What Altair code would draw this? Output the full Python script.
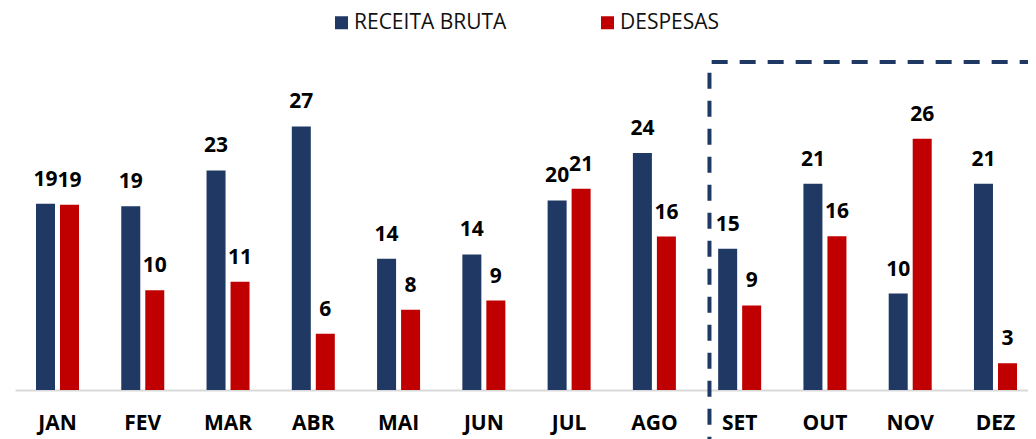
import altair as alt
import pandas as pd

meses = ["JAN", "FEV", "MAR", "ABR", "MAI", "JUN", "JUL", "AGO", "SET", "OUT", "NOV", "DEZ"]
receita = [19.2, 18.96, 22.64, 27.18, 13.53, 13.98, 19.55, 24.45, 14.57, 21.27, 9.95, 21.27]
despesas = [19.1, 10.3, 11.16, 5.8, 8.27, 9.23, 20.75, 15.83, 8.72, 15.87, 25.91, 2.76]
series = ["RECEITA BRUTA", "DESPESAS"]
cores = ["#1F3864", "#C00000"]

# annotation box (starts at SET, top value)
caixa_mes = ["SET"]
caixa_topo = [33.83]

rows = []
for i, m in enumerate(meses):
    rows.append({"mes": m, "serie": series[0], "valor": receita[i]})
    rows.append({"mes": m, "serie": series[1], "valor": despesas[i]})
df = pd.DataFrame(rows)
box = pd.DataFrame({"mes": caixa_mes, "topo": caixa_topo})

NAVY = cores[0]
W, H = 1013, 350

xscale = alt.Scale(domain=meses, paddingInner=0.4957, paddingOuter=0.1878, align=0.6557)
yscale = alt.Scale(domain=[0, 36.1], nice=False, zero=True)

x_enc = alt.X(
    "mes:N",
    scale=xscale,
    sort=meses,
    axis=alt.Axis(
        title=None, labelAngle=0, labelFont="Open Sans", labelFontSize=21,
        labelFontWeight="bold", labelColor="#000000", ticks=False, tickSize=0,
        labelPadding=39, labelBaseline="alphabetic", domainColor="#D9D9D9",
        domainWidth=2, grid=False,
    ),
)
xo_enc = alt.XOffset("serie:N", sort=series, scale=alt.Scale(domain=series, paddingInner=0.2083, paddingOuter=0))
y_enc = alt.Y("valor:Q", scale=yscale, axis=None)

base = alt.Chart(df)

bars = base.mark_bar().encode(
    x=x_enc,
    xOffset=xo_enc,
    y=y_enc,
    color=alt.Color(
        "serie:N",
        sort=series,
        scale=alt.Scale(domain=series, range=cores),
        legend=alt.Legend(
            orient="none", legendX=316, legendY=-28, direction="horizontal",
            title=None, symbolType="square", symbolSize=169, symbolStrokeWidth=0,
            labelFontSize=21, labelFont="Open Sans", labelColor="#111111",
            labelOffset=2, columnPadding=90, padding=0,
        ),
    ),
)

labels = base.mark_text(
    font="Open Sans", fontSize=21, fontWeight="bold", baseline="alphabetic",
    dy=-18, color="#000000",
).encode(
    x=alt.X("mes:N", sort=meses),
    xOffset=alt.XOffset("serie:N", sort=series),
    y=alt.Y("valor:Q"),
    text=alt.Text("valor:Q", format=".0f"),
)

vrule = alt.Chart(box).mark_rule(
    color=NAVY, strokeWidth=4, strokeDash=[16, 12], strokeDashOffset=17.3, xOffset=-8.7,
).encode(
    x=alt.X("mes:N", sort=meses, bandPosition=0),
    y=alt.Y("topo:Q"),
    y2=alt.value(H + 49),
)

hrule = alt.Chart(box).mark_rule(
    color=NAVY, strokeWidth=4, strokeDash=[16, 12], strokeDashOffset=25.8, xOffset=-8.7,
).encode(
    x=alt.X("mes:N", sort=meses, bandPosition=0),
    x2=alt.value(W + 40),
    y=alt.Y("topo:Q"),
)

chart = alt.layer(bars, labels, vrule, hrule).properties(
    width=W,
    height=H,
    autosize=alt.AutoSizeParams(type="none"),
    padding={"left": 7, "top": 32, "right": 0, "bottom": 49},
).configure_view(stroke=None)

chart.save("out.html", embed_options={"renderer": "svg", "actions": False})
